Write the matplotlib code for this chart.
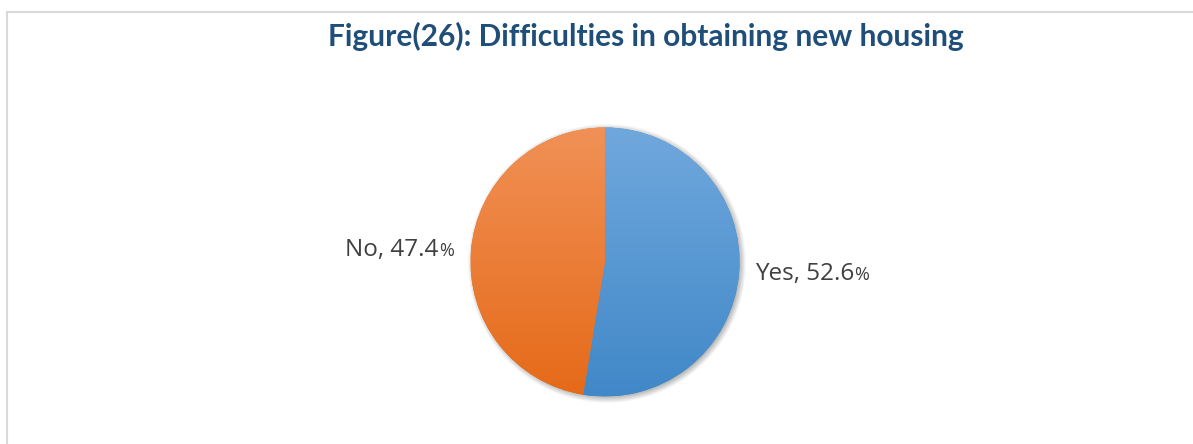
import numpy as np
import matplotlib.pyplot as plt
from matplotlib.colors import LinearSegmentedColormap
from matplotlib.offsetbox import TextArea, HPacker, AnnotationBbox

# survey answers
labels = ['Yes', 'No']
values = [52.6, 47.4]

title = 'Figure(26): Difficulties in obtaining new housing'

# slice fills: light at the top, darker at the bottom
top_colors = ['#70A8DD', '#F19157']
bottom_colors = ['#4188C8', '#E56A18']
label_dist = [1.12, 1.13]

W, H = 1193, 444
fig = plt.figure(figsize=(W / 100, H / 100), dpi=100)
ax = fig.add_axes([0, 0, 1, 1])

cx, cy, r = 605, H - 262, 134.5

# soft drop shadow behind the pie
n = 400
pad = 20
xs = np.linspace(cx - r - pad, cx + r + pad, n)
ys = np.linspace(cy - r - pad, cy + r + pad, n)
gx, gy = np.meshgrid(xs, ys)
d = np.hypot(gx - (cx + 1.5), gy - (cy - 2.5))
alpha = 0.45 * np.clip(1 - (d - r + 2) / 7, 0, 1)
shadow = np.zeros((n, n, 4))
shadow[..., :3] = 0.35
shadow[..., 3] = alpha
ax.imshow(shadow, extent=(xs[0], xs[-1], ys[0], ys[-1]), origin='lower',
          aspect='auto', zorder=1, interpolation='bilinear')

wedges, _ = ax.pie(values, center=(cx, cy), radius=r, startangle=90,
                   counterclock=False, frame=True,
                   colors=bottom_colors,
                   wedgeprops=dict(linewidth=0, zorder=2))

grad = np.linspace(0, 1, 256).reshape(-1, 1)
for w, c_top, c_bot in zip(wedges, top_colors, bottom_colors):
    cmap = LinearSegmentedColormap.from_list('slice', [c_bot, c_top])
    im = ax.imshow(grad, cmap=cmap, extent=(cx - r, cx + r, cy - r, cy + r),
                   origin='lower', aspect='auto', zorder=3)
    im.set_clip_path(w)

# category labels with a smaller percent sign
for w, lab, v, dist in zip(wedges, labels, values, label_dist):
    mid = np.deg2rad((w.theta1 + w.theta2) / 2)
    x = cx + dist * r * np.cos(mid)
    y = cy + dist * r * np.sin(mid)
    box = HPacker(children=[
        TextArea(f'{lab}, {v}', textprops=dict(fontsize=17.5, color='#404040', family='Open Sans')),
        TextArea('%', textprops=dict(fontsize=13, color='#404040', family='Open Sans')),
    ], align='baseline', pad=0, sep=0)
    ha = 0 if np.cos(mid) > 0 else 1
    ab = AnnotationBbox(box, (x, y), box_alignment=(ha, 0.5), frameon=False,
                        pad=0, zorder=5)
    ax.add_artist(ab)

ax.text(646, H - 46, title, ha='center', va='baseline', fontsize=21.5,
        fontweight='bold', color='#1F4E79', family='Lato')

# chart area border (runs off the right and bottom edges)
ax.plot([6.5, 6.5, W + 5], [-5, H - 12.5, H - 12.5], color='#D9D9D9',
        lw=1.5, solid_joinstyle='miter', zorder=0)

ax.set_xlim(0, W)
ax.set_ylim(0, H)
ax.set_aspect('auto')
ax.axis('off')

fig.savefig('out.png', dpi=100, facecolor='white')
